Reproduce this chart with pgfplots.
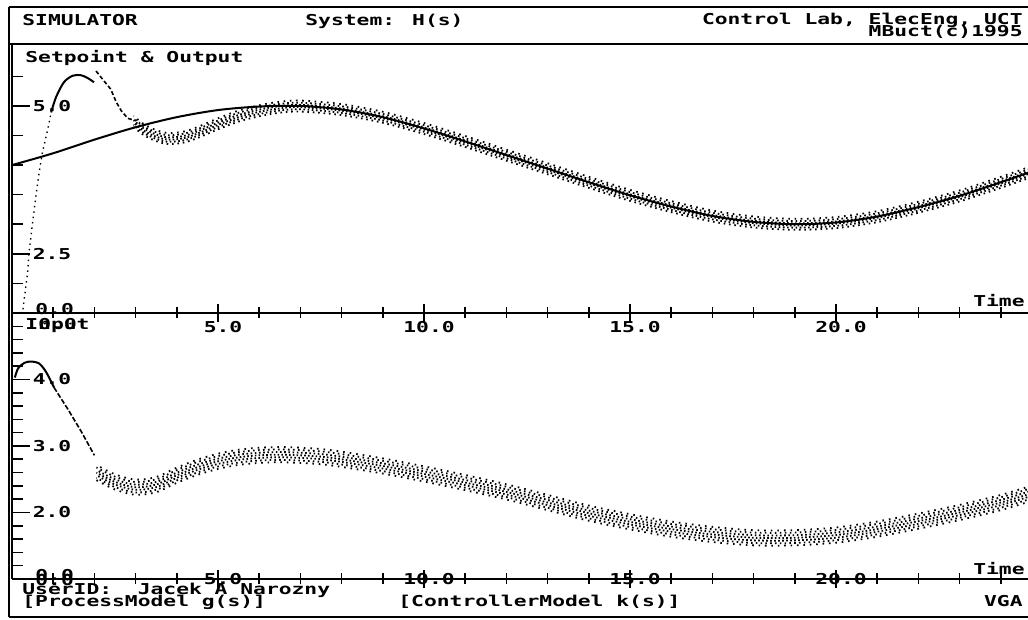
\documentclass[border=0pt]{standalone}
\usepackage{pgfplots}
\pgfplotsset{compat=1.18}
\usepackage{fontspec}
\newfontfamily\dos[FakeStretch=1.42]{DejaVu Sans Mono}
\newcommand\T{\dos\bfseries\fontsize{7.5}{8}\selectfont}

\pgfplotstableread[row sep=\\]{
t v\\
0 4.00\\ 1 4.20\\ 2 4.43\\ 3 4.64\\ 4 4.81\\ 5 4.93\\ 6 4.99\\ 7 5.00\\ 8 4.94\\ 9 4.81\\
10 4.62\\ 11 4.40\\ 12 4.17\\ 13 3.94\\ 14 3.71\\ 15 3.49\\ 16 3.30\\ 17 3.14\\ 18 3.04\\
19 3.00\\ 20 3.03\\ 21 3.13\\ 22 3.29\\ 23 3.48\\ 24 3.71\\ 24.7 3.88\\
}\setpoint

\pgfplotstableread[row sep=\\]{
t v\\
2.95 4.74\\ 3.2 4.60\\ 3.5 4.50\\ 3.8 4.45\\ 4.2 4.48\\ 4.6 4.58\\ 5.0 4.70\\ 5.5 4.83\\
6.0 4.92\\ 6.5 4.98\\ 7 5.00\\ 8 4.94\\ 9 4.81\\ 10 4.62\\ 11 4.40\\ 12 4.17\\ 13 3.94\\
14 3.71\\ 15 3.49\\ 16 3.30\\ 17 3.14\\ 18 3.04\\ 19 3.00\\ 20 3.03\\ 21 3.13\\ 22 3.29\\
23 3.48\\ 24 3.71\\ 24.7 3.88\\
}\outband

\pgfplotstableread[row sep=\\]{
t v\\
2.05 2.60\\ 2.5 2.46\\ 3.0 2.38\\ 3.5 2.42\\ 4.0 2.56\\ 4.5 2.68\\ 5.0 2.77\\ 5.5 2.83\\
6.0 2.86\\ 6.5 2.87\\ 7.0 2.86\\ 7.5 2.84\\ 8.0 2.80\\ 9.0 2.70\\ 10 2.58\\ 11 2.45\\
12 2.31\\ 13 2.15\\ 14 1.99\\ 15 1.86\\ 16 1.75\\ 17 1.67\\ 18 1.62\\ 19 1.62\\ 20 1.66\\
21 1.75\\ 22 1.87\\ 23 2.00\\ 24 2.15\\ 24.7 2.28\\
}\inband

\pgfplotsset{
  dosaxis/.style={
    scale only axis, width=508pt,
    xmin=0, xmax=24.66,
    axis x line*=bottom, axis y line*=left,
    axis line style={line width=1.3pt,-},
    xtick={5,10,15,20},
    minor xtick={1,2,3,4,6,7,8,9,11,12,13,14,16,17,18,19,21,22,23,24},
    xtick align=center, ytick align=inside,
    major tick length=9pt, minor tick length=5.5pt,
    tick style={black, line width=0.8pt},
    tick label style={font=\T},
    /pgf/number format/fixed, /pgf/number format/fixed zerofill,
    /pgf/number format/precision=1, /pgf/number format/assume math mode=true,
    yticklabel style={anchor=center, xshift=20pt},
    clip=true,
  },
  dots/.style={black, line width=0.9pt, smooth, dash pattern=on 0.8pt off #1},
}

\begin{document}
\begin{tikzpicture}[x=0.5pt,y=0.5pt]
% frame
\draw[line width=1.1pt] (8.5,613) -- (1028,613);
\draw[line width=1.1pt] (8.5,576) -- (1028,576);
\draw[line width=1pt] (8.5,613) -- (8.5,3);
\draw[line width=1pt] (8.5,3) -- (1028,3);

% upper panel
\begin{axis}[dosaxis, at={(6pt,153.5pt)}, anchor=south west, height=134pt,
  ymin=1.5, ymax=6.03,
  ytick={2.5,5}, minor ytick={2,3,3.5,4,4.5,5.5},
  xticklabel style={anchor=center, yshift=-2.5pt, xshift=2.5pt}]
\addplot[dots=1.9pt, yshift=-2.8pt] table[x=t,y=v] {\outband};
\addplot[dots=1.3pt, yshift=-1.7pt, dash phase=0.5pt] table[x=t,y=v] {\outband};
\addplot[dots=1.1pt, yshift=-0.6pt, dash phase=0.9pt] table[x=t,y=v] {\outband};
\addplot[dots=1.2pt, yshift=0.5pt, dash phase=0.3pt] table[x=t,y=v] {\outband};
\addplot[dots=1.5pt, yshift=1.6pt, dash phase=1.1pt] table[x=t,y=v] {\outband};
\addplot[dots=2.3pt, yshift=2.7pt, dash phase=0.7pt] table[x=t,y=v] {\outband};
\addplot[black, line width=1pt, smooth] table[x=t,y=v] {\setpoint};
\addplot[black, line width=0.7pt, dotted] coordinates {(0.20,1.2) (0.26,1.53) (0.38,2.19) (0.41,2.5) (0.50,3.03) (0.58,3.47) (0.66,3.88) (0.74,4.22) (0.87,4.61) (0.95,4.89)};
\addplot[black, line width=1pt, smooth] coordinates {(0.95,4.89) (1.07,5.15) (1.26,5.40) (1.47,5.51) (1.67,5.52) (1.84,5.47) (1.99,5.40)};
\addplot[black, line width=0.8pt, dash pattern=on 2pt off 1.2pt] coordinates {(2.04,5.59) (2.2,5.45) (2.4,5.28) (2.52,5.08) (2.65,4.92) (2.81,4.79) (3.01,4.75)};
\end{axis}

% lower panel
\begin{axis}[dosaxis, at={(6pt,20.5pt)}, anchor=south west, height=133pt,
  ymin=1, ymax=5,
  ytick={2,3,4}, minor ytick={1.2,1.4,1.6,1.8,2.2,2.4,2.6,2.8,3.2,3.4,3.6,3.8,4.2,4.4,4.6,4.8},
  xticklabel style={anchor=center, yshift=4.5pt, xshift=2.5pt}]
\addplot[dots=2.4pt, yshift=-3.8pt] table[x=t,y=v] {\inband};
\addplot[dots=1.6pt, yshift=-2.6pt, dash phase=0.6pt] table[x=t,y=v] {\inband};
\addplot[dots=1.2pt, yshift=-1.3pt, dash phase=1.0pt] table[x=t,y=v] {\inband};
\addplot[dots=1.1pt, yshift=0pt, dash phase=0.4pt] table[x=t,y=v] {\inband};
\addplot[dots=1.3pt, yshift=1.3pt, dash phase=0.8pt] table[x=t,y=v] {\inband};
\addplot[dots=1.7pt, yshift=2.6pt, dash phase=0.2pt] table[x=t,y=v] {\inband};
\addplot[dots=2.5pt, yshift=3.8pt, dash phase=1.2pt] table[x=t,y=v] {\inband};
\addplot[black, line width=1pt, smooth] coordinates {(0.07,4.03) (0.15,4.17) (0.30,4.25) (0.46,4.27) (0.66,4.24) (0.83,4.11) (1.02,3.88)};
\addplot[black, line width=0.8pt, dash pattern=on 2.5pt off 1pt] coordinates {(1.02,3.88) (1.35,3.56) (1.67,3.23) (2.0,2.86)};
\end{axis}

% texts
\node[anchor=base west, inner sep=0] at (22,594) {\T SIMULATOR};
\node[anchor=base west, inner sep=0] at (305,594) {\T System: H(s)};
\node[anchor=base east, inner sep=0] at (1023,595) {\T Control Lab, ElecEng, UCT};
\node[anchor=base east, inner sep=0] at (1023,583) {\T MBuct(c)1995};
\node[anchor=base west, inner sep=0] at (25,557) {\T Setpoint \& Output};
\node[anchor=base east, inner sep=0] at (1025,313) {\T Time};
\node[anchor=base west, inner sep=0] at (35,305) {\T 0.0};
\node[anchor=base west, inner sep=0] at (25,290) {\T Input};
\node[anchor=base west, inner sep=0] at (38,290) {\T 0.0};
\node[anchor=base east, inner sep=0] at (1025,45) {\T Time};
\node[anchor=base west, inner sep=0] at (35,39) {\T 0.0};
\node[anchor=base west, inner sep=0] at (35,34) {\T 0.0};
\node[anchor=base west, inner sep=0] at (22,25) {\T UserID:~~Jacek A Narozny};
\node[anchor=base west, inner sep=0] at (22,13) {\T [ProcessModel g(s)]};
\node[anchor=base west, inner sep=0] at (398,13) {\T [ControllerModel k(s)]};
\node[anchor=base east, inner sep=0] at (1023,13) {\T VGA};
\pgfresetboundingbox
\path[use as bounding box] (0,0) rectangle (1028,620);
\end{tikzpicture}
\end{document}
